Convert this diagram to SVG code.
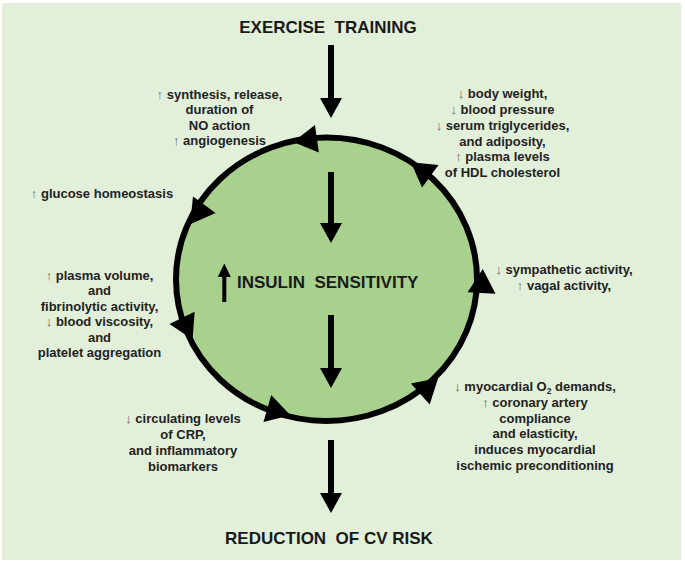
<svg xmlns="http://www.w3.org/2000/svg" width="685" height="564" viewBox="0 0 685 564">
<style>
  .bg { fill: #e2efd9; }
  .title { font-family: "Liberation Sans", Arial, sans-serif; font-weight: bold; font-size: 17px; fill: #1a1a1a; text-anchor: middle; white-space: pre; }
  .lbl { font-family: "Liberation Sans", Arial, sans-serif; font-weight: bold; font-size: 13px; fill: #222; text-anchor: middle; }
  .ar { font-weight: normal; fill: #666; }
  .blk { fill: #000; }
  .shaft { stroke: #000; stroke-width: 6; fill: none; }
</style>
<defs>
  <path id="ah" d="M15,0 L-9,-14 L-9,14 Z" fill="#000"/>
  <path id="down" d="M-11,0 L11,0 L0,20 Z" fill="#000"/>
</defs>
<rect x="0" y="0" width="685" height="564" fill="#ffffff"/>
<rect class="bg" x="2" y="3" width="679" height="557"/>

<g id="exercise-training">
  <text class="title" x="328" y="33" font-size="16.5">EXERCISE  TRAINING</text>
</g>

<g id="insulin-sensitivity">
  <ellipse cx="326.5" cy="279.25" rx="150.5" ry="141.75" fill="#a9d18e" stroke="#000" stroke-width="6"/>
  <line x1="224.3" y1="276" x2="224.3" y2="302" stroke="#000" stroke-width="4"/>
  <path d="M217.8,277 L230.8,277 L224.3,263.5 Z" fill="#000"/>
  <text class="title" x="237" y="288" font-size="16.5" text-anchor="start" style="text-anchor:start">INSULIN  SENSITIVITY</text>
</g>

<g id="reduction-cv-risk">
  <text class="title" x="329" y="544">REDUCTION  OF CV RISK</text>
</g>

<g id="label-no">
  <text class="lbl" x="219.5" y="98.7"><tspan class="ar">↑ </tspan>synthesis, release,<tspan x="219.5" y="114.3">duration of</tspan><tspan x="219.5" y="129.7">NO action</tspan><tspan x="219.5" y="145.3"><tspan class="ar">↑ </tspan>angiogenesis</tspan></text>
</g>

<g id="label-weight">
  <text class="lbl" x="502.5" y="98.3"><tspan class="ar">↓ </tspan>body weight,<tspan x="502.5" y="114"><tspan class="ar">↓ </tspan>blood pressure</tspan><tspan x="502.5" y="130"><tspan class="ar">↓ </tspan>serum triglycerides,</tspan><tspan x="502.5" y="145.5">and adiposity,</tspan><tspan x="502.5" y="161"><tspan class="ar">↑ </tspan>plasma levels</tspan><tspan x="502.5" y="176.7">of HDL cholesterol</tspan></text>
</g>

<g id="label-glucose">
  <text class="lbl" x="102" y="198.3"><tspan class="ar">↑ </tspan>glucose homeostasis</text>
</g>

<g id="label-plasma">
  <text class="lbl" x="99.5" y="280"><tspan class="ar">↑ </tspan>plasma volume,<tspan x="99.5" y="295.3">and</tspan><tspan x="99.5" y="310.7">fibrinolytic activity,</tspan><tspan x="99.5" y="326.3"><tspan class="ar">↓ </tspan>blood viscosity,</tspan><tspan x="99.5" y="341.6">and</tspan><tspan x="99.5" y="357">platelet aggregation</tspan></text>
</g>

<g id="label-sympathetic">
  <text class="lbl" x="564" y="274.3"><tspan class="ar">↓ </tspan>sympathetic activity,<tspan x="564" y="290"><tspan class="ar">↑ </tspan>vagal activity,</tspan></text>
</g>

<g id="label-myocardial">
  <text class="lbl" x="535" y="391"><tspan class="ar">↓ </tspan>myocardial O<tspan font-size="8.5" dy="2.5">2</tspan><tspan dy="-2.5"> demands,</tspan><tspan x="535" y="406.7"><tspan class="ar">↑ </tspan>coronary artery</tspan><tspan x="535" y="422.5">compliance</tspan><tspan x="535" y="438.3">and elasticity,</tspan><tspan x="535" y="454.2">induces myocardial</tspan><tspan x="535" y="470">ischemic preconditioning</tspan></text>
</g>

<g id="label-crp">
  <text class="lbl" x="183" y="423.3"><tspan class="ar">↓ </tspan>circulating levels<tspan x="183" y="439">of CRP,</tspan><tspan x="183" y="455">and inflammatory</tspan><tspan x="183" y="470.5">biomarkers</tspan></text>
</g>

<g id="connectors">
  <line class="shaft" x1="331" y1="45" x2="331" y2="100"/>
  <use href="#down" x="331" y="98"/>
  <line class="shaft" x1="331" y1="172" x2="331" y2="225"/>
  <use href="#down" x="331" y="223"/>
  <line class="shaft" x1="331" y1="315" x2="331" y2="370"/>
  <use href="#down" x="331" y="368"/>
  <line class="shaft" x1="331" y1="440" x2="331" y2="495"/>
  <use href="#down" x="331" y="493"/>
  <use href="#ah" transform="translate(308,140) rotate(172)"/>
  <use href="#ah" transform="translate(423,171) rotate(-144)"/>
  <use href="#ah" transform="translate(482,284) rotate(-87)"/>
  <use href="#ah" transform="translate(427,388) rotate(-42)"/>
  <use href="#ah" transform="translate(276,411) rotate(16)"/>
  <use href="#ah" transform="translate(186,326) rotate(64)"/>
  <use href="#ah" transform="translate(199,212) rotate(126)"/>
</g>
</svg>
